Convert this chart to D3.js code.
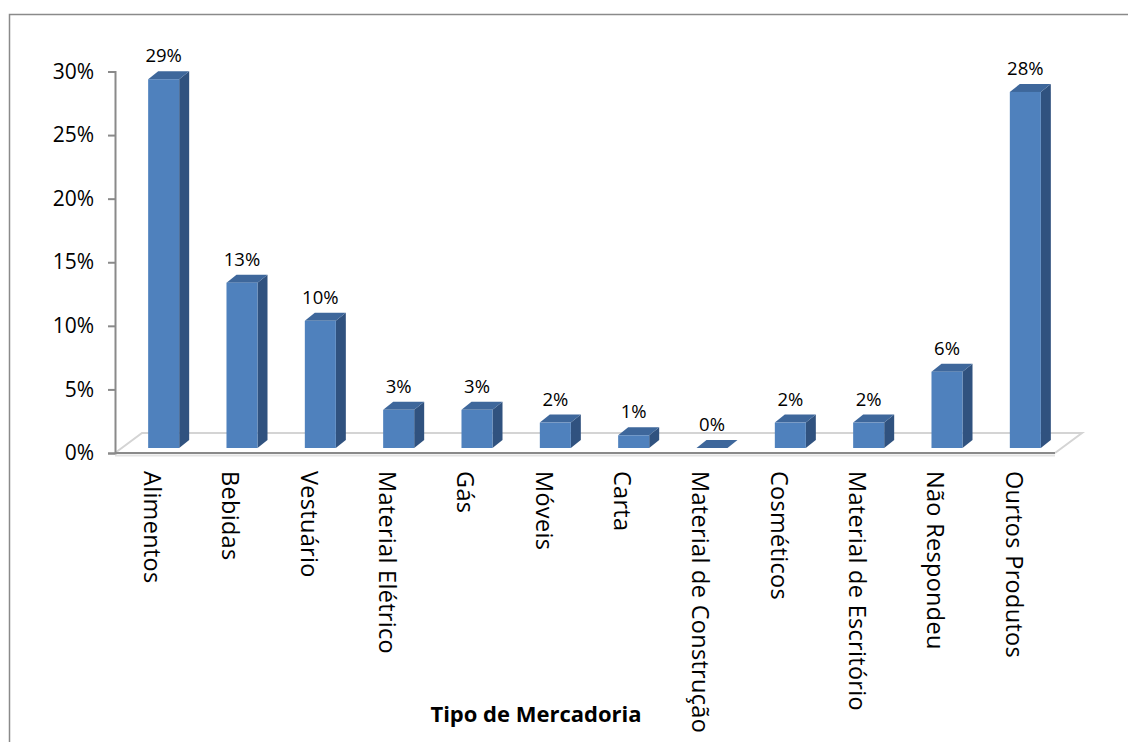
<!DOCTYPE html>
<html>
<head>
<meta charset="utf-8">
<script src="https://cdn.jsdelivr.net/npm/d3@7"></script>
<style>
  html, body { margin: 0; padding: 0; background: #fff; }
  svg { display: block; }
  text { font-family: "Open Sans", "DejaVu Sans", sans-serif; fill: #000; }
</style>
</head>
<body>
<svg id="chart" width="1128" height="742"></svg>
<script>
const categories = ["Alimentos", "Bebidas", "Vestuário", "Material Elétrico", "Gás", "Móveis",
  "Carta", "Material de Construção", "Cosméticos", "Material de Escritório", "Não Respondeu", "Ourtos Produtos"];
const values = [0.29, 0.13, 0.10, 0.03, 0.03, 0.02, 0.01, 0.00, 0.02, 0.02, 0.06, 0.28];
const tickValues = [0, 0.05, 0.10, 0.15, 0.20, 0.25, 0.30];
const axisTitle = "Tipo de Mercadoria";

const svg = d3.select("#chart");
const W = 1128, H = 742;

// outer border (left and top visible)
svg.append("rect").attr("x", 9.5).attr("y", 14.5).attr("width", W + 20).attr("height", H + 20)
  .attr("fill", "none").attr("stroke", "#8a8a8a").attr("stroke-width", 1.5);

const x0 = 115, x1 = 1055, y0 = 453, yTop = 71.5;
const floorDX = 27, floorDY = -20;
const barDX = 10, barDY = -8;
const barShiftX = 9.5, barShiftY = -5;

const x = d3.scaleBand().domain(categories).range([x0, x1]).paddingInner(0.604).paddingOuter(0.302);
const y = d3.scaleLinear().domain([0, 0.30]).range([y0, yTop]);

// floor
const g = svg.append("g");
g.append("line").attr("x1", x0).attr("y1", y0 + 2.5).attr("x2", x1).attr("y2", y0 + 2.5)
  .attr("stroke", "#e3e3e3").attr("stroke-width", 2);
g.append("polyline")
  .attr("points", [[x0, y0], [x0 + floorDX, y0 + floorDY], [x1 + floorDX, y0 + floorDY], [x1, y0]].map(p => p.join(",")).join(" "))
  .attr("fill", "none").attr("stroke", "#d4d4d4").attr("stroke-width", 2);
g.append("line").attr("x1", x0).attr("y1", y0).attr("x2", x1).attr("y2", y0)
  .attr("stroke", "#8a8a8a").attr("stroke-width", 2);

// y axis
const yAxis = svg.append("g").attr("transform", `translate(${x0},0)`)
  .call(d3.axisLeft(y).tickValues(tickValues).tickFormat(d3.format(".0%")).tickSize(7).tickPadding(14));
yAxis.select(".domain").attr("stroke", "#8a8a8a").attr("stroke-width", 2);
yAxis.selectAll(".tick line").attr("stroke", "#8a8a8a").attr("stroke-width", 2);
yAxis.selectAll(".tick text").style("font-size", "21px").attr("fill", "#000")
  .style("font-family", '"Open Sans", sans-serif');

// bars
const bars = svg.append("g");
categories.forEach((c, i) => {
  const v = values[i];
  const bx = x(c) + barShiftX;
  const bw = x.bandwidth();
  const base = y(0) + barShiftY;
  const top = y(v) + barShiftY;
  // side face
  bars.append("path")
    .attr("d", `M${bx + bw},${top} L${bx + bw + barDX},${top + barDY} L${bx + bw + barDX},${base + barDY} L${bx + bw},${base} Z`)
    .attr("fill", "#30527f");
  // top face
  bars.append("path")
    .attr("d", `M${bx},${top} L${bx + barDX},${top + barDY} L${bx + bw + barDX},${top + barDY} L${bx + bw},${top} Z`)
    .attr("fill", "#3e679b");
  // front face
  if (base - top > 0.5) {
    bars.append("rect").attr("x", bx).attr("y", top).attr("width", bw).attr("height", base - top)
      .attr("fill", "#4f81bd");
  }
  // data label
  bars.append("text").attr("x", bx + bw / 2).attr("y", top - 17)
    .attr("text-anchor", "middle").style("font-size", "18.5px")
    .text(d3.format(".0%")(v));
});

// category labels (rotated, reading top to bottom)
const labels = svg.append("g");
categories.forEach(c => {
  const cx = x(c) + x.bandwidth() / 2 - 2;
  labels.append("text")
    .attr("transform", `translate(${cx},471) rotate(90)`)
    .attr("dy", "0.35em")
    .attr("text-anchor", "start")
    .style("font-size", "23.5px")
    .style("letter-spacing", "0.3px")
    .text(c);
});

// axis title
svg.append("text").attr("x", 536).attr("y", 722).attr("text-anchor", "middle")
  .style("font-size", "22px").style("font-weight", "bold").text(axisTitle);
</script>
</body>
</html>
